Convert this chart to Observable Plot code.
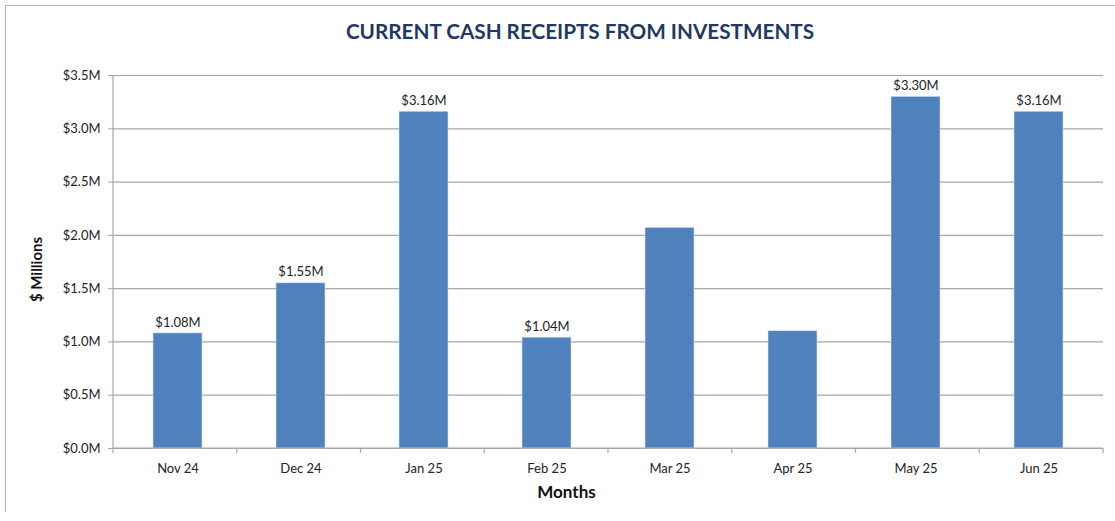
<!DOCTYPE html>
<html>
<head>
<meta charset="utf-8">
<script src="https://cdn.jsdelivr.net/npm/d3@7"></script>
<script src="https://cdn.jsdelivr.net/npm/@observablehq/plot@0.6"></script>
<style>
  html, body { margin: 0; padding: 0; background: #fff; }
  #wrap { position: relative; width: 1115px; height: 521px; overflow: hidden; font-family: Lato, "Open Sans", sans-serif; }
  #frame { position: absolute; left: 5px; top: 5px; width: 1115px; height: 507px; border-top: 1.5px solid #b0b0b0; border-left: 1.5px solid #b0b0b0; box-sizing: border-box; pointer-events: none; }
  #title { height: 55px; line-height: 62px; text-align: center; padding-left: 45px; font-family: Lato, sans-serif; font-weight: bold; font-size: 20.7px; color: #1f3864; }
  #chart svg { display: block; }
</style>
</head>
<body>
<div id="wrap">
  <div id="title">CURRENT CASH RECEIPTS FROM INVESTMENTS</div>
  <div id="chart"></div>
  <div id="frame"></div>
</div>
<script>
const months = ["Nov 24", "Dec 24", "Jan 25", "Feb 25", "Mar 25", "Apr 25", "May 25", "Jun 25"];
const receipts = [1.08, 1.55, 3.16, 1.04, 2.07, 1.10, 3.30, 3.16];
const barLabels = ["$1.08M", "$1.55M", "$3.16M", "$1.04M", "", "", "$3.30M", "$3.16M"];
const yTicks = [0, 0.5, 1.0, 1.5, 2.0, 2.5, 3.0, 3.5];
const yTickFormat = d => "$" + d.toFixed(1) + "M";
const xTitle = "Months";
const yTitle = "$ Millions";

const data = months.map((m, i) => ({month: m, value: receipts[i], label: barLabels[i]}));
const axisColor = "#a6a6a6";

// category boundary ticks and axis lines, derived from the chart dimensions
function boundaryTicks(index, scales, values, dims) {
  const g = d3.create("svg:g");
  const x0 = dims.marginLeft, x1 = dims.width - dims.marginRight;
  const yb = dims.height - dims.marginBottom, yt = dims.marginTop;
  const n = months.length;
  const step = (x1 - x0) / n;
  g.append("line").attr("x1", x0).attr("x2", x0).attr("y1", yt).attr("y2", yb)
    .attr("stroke", axisColor).attr("stroke-width", 1.2);
  g.append("line").attr("x1", x0).attr("x2", x1).attr("y1", yb).attr("y2", yb)
    .attr("stroke", axisColor).attr("stroke-width", 1.2);
  for (let i = 0; i <= n; i++) {
    const xx = x0 + i * step;
    g.append("line").attr("x1", xx).attr("x2", xx).attr("y1", yb).attr("y2", yb + 5)
      .attr("stroke", axisColor).attr("stroke-width", 1.2);
  }
  return g.node();
}

const chart = Plot.plot({
  width: 1115,
  height: 466,
  marginTop: 20,
  marginBottom: 73,
  marginLeft: 113,
  marginRight: 12,
  style: {fontFamily: "Lato, sans-serif", fontSize: "13px", color: "#222", background: "transparent"},
  x: {domain: months, paddingInner: 0.6, paddingOuter: 0.3, label: null},
  y: {domain: [0, 3.5], label: null},
  marks: [
    Plot.gridY(yTicks, {stroke: axisColor, strokeOpacity: 1, strokeWidth: 1.2}),
    Plot.barY(data, {x: "month", y: "value", fill: "#4f81bd", stroke: "#d6e2f0", strokeWidth: 0.6}),
    Plot.text(data.filter(d => d.label), {x: "month", y: "value", text: "label", dy: -11, fill: "#222", fontSize: 13}),
    Plot.axisY(yTicks, {tickFormat: yTickFormat, tickSize: 5, tickPadding: 8, stroke: axisColor, strokeOpacity: 1, label: null, fill: "#222"}),
    Plot.axisX({tickSize: 0, tickPadding: 15, label: null, fill: "#222"}),
    boundaryTicks,
    Plot.text([yTitle], {frameAnchor: "left", textAnchor: "middle", lineAnchor: "middle", dx: -76, dy: 7.5, rotate: -90, fontWeight: "bold", fontSize: 15, fill: "#111"}),
    Plot.text([xTitle], {frameAnchor: "bottom", textAnchor: "middle", lineAnchor: "middle", dx: -42, dy: 44, fontWeight: "bold", fontSize: 17, fill: "#111"})
  ]
});
document.getElementById("chart").appendChild(chart);
</script>
</body>
</html>
